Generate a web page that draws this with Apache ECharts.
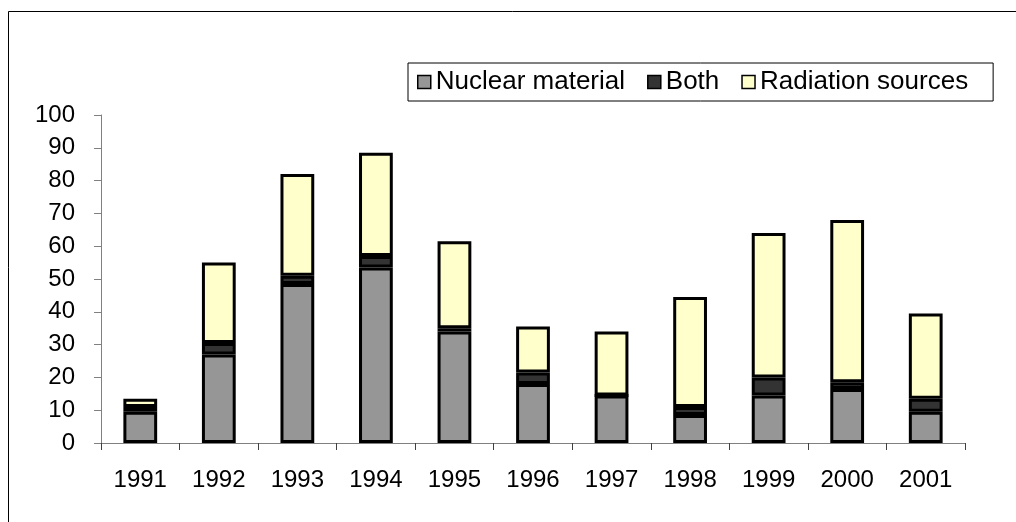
<!DOCTYPE html>
<html>
<head>
<meta charset="utf-8">
<script src="https://cdn.jsdelivr.net/npm/echarts@6/dist/echarts.min.js"></script>
<style>
html,body{margin:0;padding:0;background:#fff;}
#chart{width:1016px;height:522px;}
</style>
</head>
<body>
<div id="chart"></div>
<script>
var years = ['1991','1992','1993','1994','1995','1996','1997','1998','1999','2000','2001'];
var nuclearMaterial = [9.5, 27, 48.5, 53.5, 34, 18, 14.5, 8.5, 14.5, 16.5, 9.5];
var both = [1.5, 3.5, 2.5, 3.5, 1, 3.5, 0, 2.5, 5.5, 2, 4];
var radiationSources = [2.5, 24.5, 31, 31.5, 26.5, 14, 19.5, 33.5, 44, 49.5, 26];
var yTicks = [0, 100, 10];

var FONT = '"Liberation Sans", Arial, sans-serif';
var chart = echarts.init(document.getElementById('chart'), null, {renderer: 'canvas'});
function barSeries(name, data, color) {
  return {
    name: name,
    type: 'bar',
    stack: 'total',
    data: data,
    barCategoryGap: '57%',
    itemStyle: {color: color, borderColor: '#000', borderWidth: 3},
    emphasis: {disabled: true}
  };
}
chart.setOption({
  animation: false,
  backgroundColor: '#fff',
  textStyle: {fontFamily: FONT},
  graphic: [{
    type: 'rect',
    shape: {x: 8.5, y: 11.5, width: 1100, height: 700},
    style: {fill: 'none', stroke: '#000', lineWidth: 1},
    silent: true
  }],
  legend: {
    left: 408,
    top: 63,
    padding: [5, 25, 5, 9],
    borderColor: '#000',
    borderWidth: 1,
    itemWidth: 13,
    itemHeight: 13,
    itemGap: 22,
    icon: 'rect',
    textStyle: {fontFamily: FONT, fontSize: 26, lineHeight: 28, color: '#000'},
    itemStyle: {borderColor: '#000', borderWidth: 1.5},
    data: ['Nuclear material', 'Both', 'Radiation sources']
  },
  grid: {left: 101, right: 51, top: 115, bottom: 79, containLabel: false},
  xAxis: {
    type: 'category',
    data: years,
    axisLine: {lineStyle: {color: '#808080', width: 1}},
    axisTick: {show: true, length: 7, lineStyle: {color: '#404040'}},
    axisLabel: {fontFamily: FONT, fontSize: 24, color: '#000', margin: 25}
  },
  yAxis: {
    type: 'value',
    min: yTicks[0],
    max: yTicks[1],
    interval: yTicks[2],
    axisLine: {show: true, lineStyle: {color: '#808080', width: 1}},
    axisTick: {show: true, length: 7, lineStyle: {color: '#808080'}},
    splitLine: {show: false},
    axisLabel: {fontFamily: FONT, fontSize: 24, color: '#000', margin: 26}
  },
  series: [
    barSeries('Nuclear material', nuclearMaterial, '#969696'),
    barSeries('Both', both, '#333333'),
    barSeries('Radiation sources', radiationSources, '#FFFFCC')
  ]
});
</script>
</body>
</html>
